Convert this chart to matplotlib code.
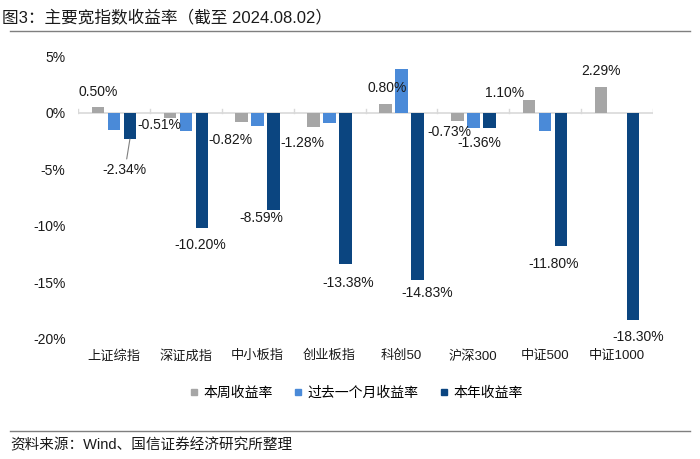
import numpy as np
import matplotlib
matplotlib.use("Agg")
import matplotlib.pyplot as plt
from matplotlib.lines import Line2D
from matplotlib.ticker import FuncFormatter

plt.rcParams['font.family'] = ['Liberation Sans', 'Noto Sans CJK SC', 'DejaVu Sans']

# data (%)
categories = ['上证综指', '深证成指', '中小板指', '创业板指', '科创50', '沪深300', '中证500', '中证1000']
week_ret = [0.50, -0.51, -0.82, -1.28, 0.80, -0.73, 1.10, 2.29]
month_ret = [-1.5, -1.65, -1.15, -0.95, 3.85, -1.4, -1.6, 0.0]
year_ret = [-2.34, -10.20, -8.59, -13.38, -14.83, -1.36, -11.80, -18.30]
series_names = ['本周收益率', '过去一个月收益率', '本年收益率']

# label offsets in pixels (dx, dy) from bar ends, placed by hand like the original
week_offsets = [(0, 15), (-11, -7), (-11, -18), (-11, -16), (2, 16), (-8, -11), (-25, 7), (0, 16)]
year_offsets = [(-5, -31), (-2, -17), (-12, -8), (3, -19), (10, -13), (-10, -15), (-8, -18), (5, -17)]

c_gray = '#A6A6A6'
c_light = '#4A8AD8'
c_dark = '#0B4580'

fig = plt.figure(figsize=(7, 4.59), dpi=100)
ax = fig.add_axes([78/700, 1-339/459, (653-78)/700, (339-56)/459])

x = np.arange(len(categories))
w = 12.5/72
step = 16/72
ax.bar(x - step, week_ret, w, color=c_gray, label=series_names[0], zorder=3)
ax.bar(x, month_ret, w, color=c_light, label=series_names[1], zorder=3)
ax.bar(x + step, year_ret, w, color=c_dark, label=series_names[2], zorder=3)

# data labels
for i in range(len(categories)):
    dx, dy = week_offsets[i]
    ax.annotate(f'{week_ret[i]:.2f}%', xy=(x[i] - step, week_ret[i]), xytext=(dx, dy),
                textcoords='offset pixels', ha='center', va='center', fontsize=10, color='#1a1a1a')
    dx, dy = year_offsets[i]
    if i == 0:
        # leader line for the first one
        ax.annotate(f'{year_ret[i]:.2f}%', xy=(x[i] + step, year_ret[i]), xytext=(dx, dy),
                    textcoords='offset pixels', ha='center', va='center', fontsize=10, color='#1a1a1a',
                    arrowprops=dict(arrowstyle='-', color='#7f7f7f', lw=0.8, shrinkA=1, shrinkB=0))
    else:
        ax.annotate(f'{year_ret[i]:.2f}%', xy=(x[i] + step, year_ret[i]), xytext=(dx, dy),
                    textcoords='offset pixels', ha='center', va='center', fontsize=10, color='#1a1a1a')

ax.set_xlim(-0.5, len(categories) - 0.5)
ax.set_ylim(-20, 5)
ax.set_yticks([5, 0, -5, -10, -15, -20])
ax.yaxis.set_major_formatter(FuncFormatter(lambda v, p: f'{v:.0f}%'))
ax.tick_params(axis='y', length=0, labelsize=10, pad=9, colors='#1a1a1a')

for s in ax.spines.values():
    s.set_visible(False)
ax.axhline(0, color='#d9d9d9', lw=1.2, zorder=2)
# category boundary ticks on the zero line
for b in np.arange(-0.5, len(categories) - 0.5 + 1e-9, 1.0):
    ax.plot([b, b], [0, 0.35], color='#d9d9d9', lw=1, zorder=2)

ax.set_xticks(x)
ax.set_xticklabels(categories, fontsize=9.5, color='#1a1a1a')
ax.tick_params(axis='x', length=0, pad=8)

# legend
handles = [Line2D([], [], marker='s', ls='', color=c, markersize=5) for c in (c_gray, c_light, c_dark)]
fig.legend(handles, series_names, loc='center', bbox_to_anchor=(354/700, 1-393/459), ncol=3,
           frameon=False, handletextpad=0.1, columnspacing=1.2, handlelength=1.2,
           prop={'family': ['Noto Sans CJK SC'], 'size': 10})

# title and source
fig.text(2/700, 1-17/459, '图3：主要宽指数收益率（截至 2024.08.02）', fontsize=12, va='center', ha='left',
         color='#1a1a1a')
fig.add_artist(Line2D([10/700, 690/700], [1-31/459, 1-31/459], color='#7f7f7f', lw=1))
fig.add_artist(Line2D([10/700, 690/700], [1-431/459, 1-431/459], color='#7f7f7f', lw=1))
fig.text(10/700, 1-445/459, '资料来源：Wind、国信证券经济研究所整理', fontsize=10.5, va='center', ha='left',
         color='#1a1a1a')

fig.savefig('out.png', dpi=100)
